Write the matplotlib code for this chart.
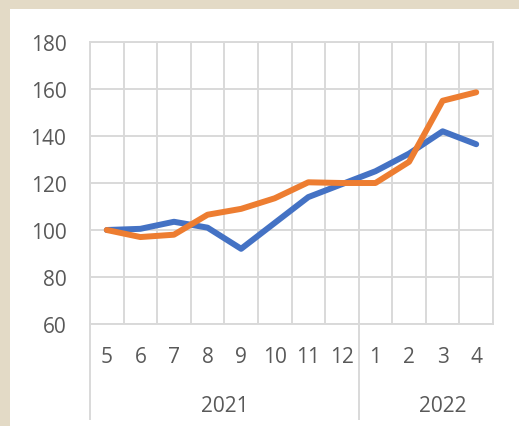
import matplotlib.pyplot as plt
from matplotlib.patches import Rectangle
import matplotlib.transforms as mtransforms

# Data
months = ["5", "6", "7", "8", "9", "10", "11", "12", "1", "2", "3", "4"]
years = ["2021", "2022"]
year_sizes = [8, 4]
blue_values = [100, 100.5, 103.5, 101, 92, 103, 114, 119.5, 125, 132.5, 142, 136.5]
orange_values = [100, 97, 98, 106.5, 109, 113.5, 120.3, 120, 120, 129, 155, 158.6]

plt.rcParams["font.family"] = ["Open Sans", "DejaVu Sans"]
text_color = "#595959"
grid_color = "#d9d9d9"

fig = plt.figure(figsize=(5.19, 4.27), dpi=100, facecolor="#e3dac6")
# white chart panel (behind the axes)
fig.patches.append(Rectangle((10 / 519, 0), 1, (427 - 10) / 427,
                             transform=fig.transFigure, facecolor="white",
                             edgecolor="none", zorder=-10))

ax = fig.add_axes([90 / 519, (427 - 325) / 427, (493 - 90) / 519, (325 - 43) / 427])
ax.set_facecolor("white")

x = list(range(len(months)))
ax.plot(x, blue_values, color="#4472C4", linewidth=4.3, solid_capstyle="round",
        solid_joinstyle="round", zorder=3)
ax.plot(x, orange_values, color="#ED7D31", linewidth=4.3, solid_capstyle="round",
        solid_joinstyle="round", zorder=4)

ax.set_xlim(-0.5, len(months) - 0.5)
ax.set_ylim(60, 180)
ax.set_yticks(range(60, 181, 20))
ax.tick_params(axis="y", length=0, pad=17, labelsize=15, labelcolor=text_color)

# vertical grid on category boundaries
ax.set_xticks([i - 0.5 for i in range(len(months) + 1)], minor=True)
ax.set_xticks([])
ax.grid(True, which="minor", axis="x", color=grid_color, linewidth=1.4)
ax.grid(True, which="major", axis="y", color=grid_color, linewidth=1.4)
ax.tick_params(axis="x", which="both", length=0)
for s in ax.spines.values():
    s.set_color(grid_color)
    s.set_linewidth(1.4)

# category labels
trans = mtransforms.blended_transform_factory(ax.transData, ax.transAxes)
axis_h = 325 - 43
for i, m in enumerate(months):
    ax.text(i, -33 / axis_h, m, transform=trans, ha="center", va="center",
            fontsize=15, color=text_color)

# year labels and separators
year_label_x = [3.5, 10.0]
start = 0
for yr, size, lx in zip(years, year_sizes, year_label_x):
    ax.plot([start - 0.5, start - 0.5], [0, -95 / axis_h], transform=trans,
            color=grid_color, linewidth=1.4, clip_on=False)
    ax.text(lx, -82 / axis_h, yr, transform=trans, ha="center", va="center",
            fontsize=15, color=text_color)
    start += size

fig.savefig("out.png", dpi=100, facecolor=fig.get_facecolor())
